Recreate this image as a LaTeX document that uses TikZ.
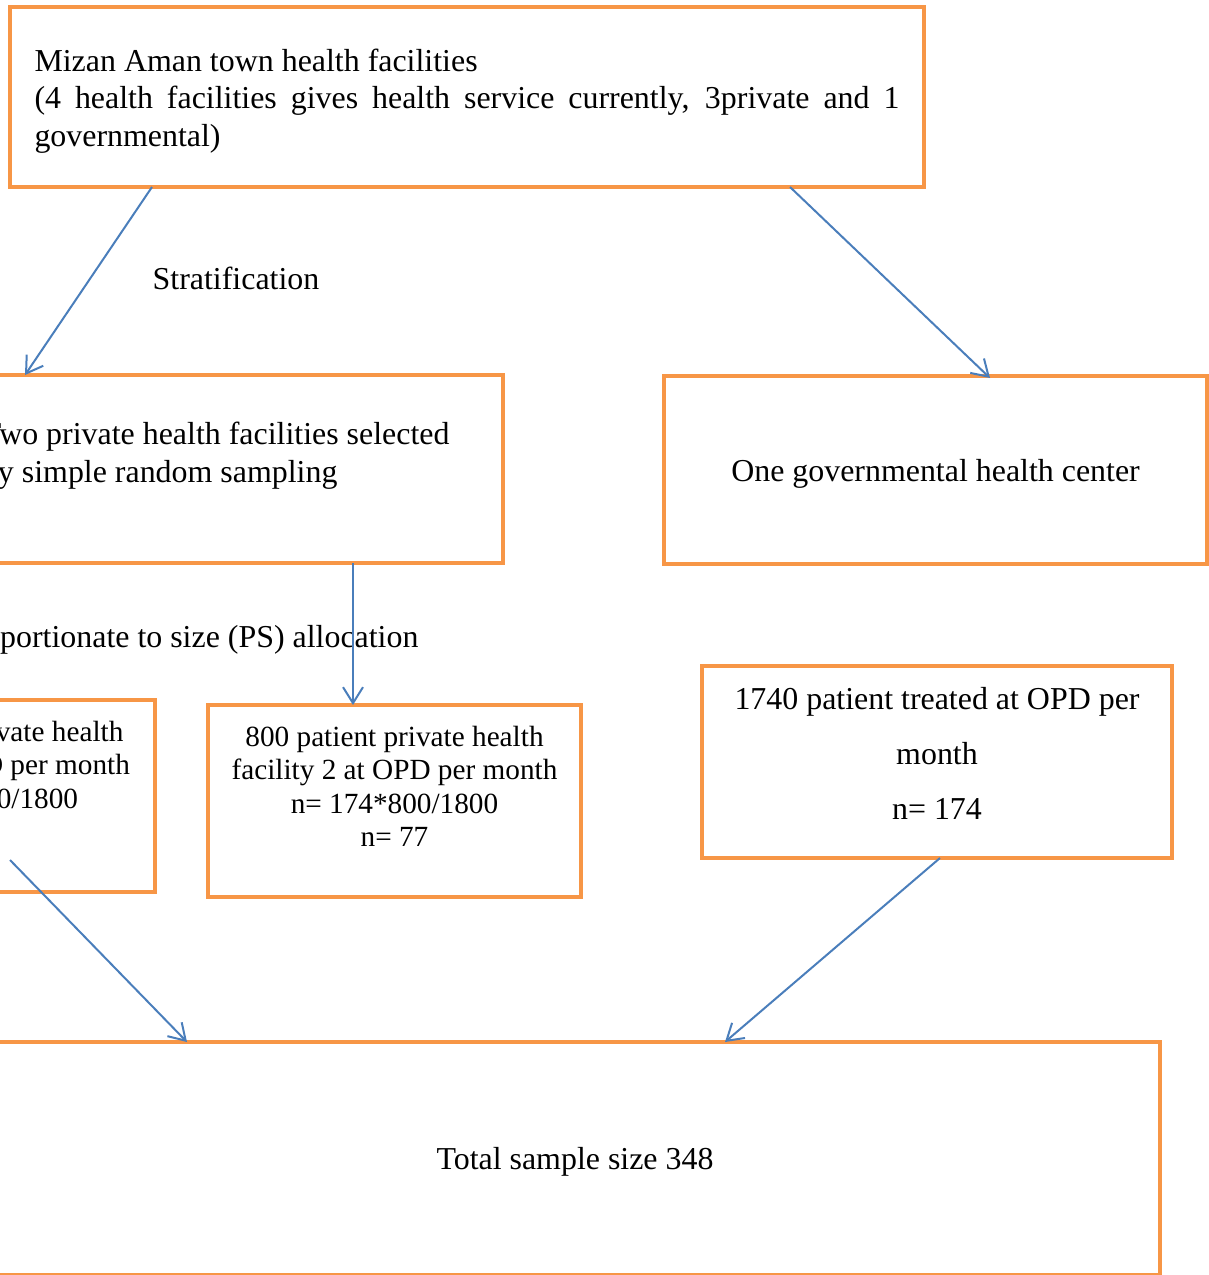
\documentclass[tikz,border=0pt]{standalone}
\usepackage{fontspec}
\setmainfont{Liberation Serif}
\usetikzlibrary{positioning}
\usetikzlibrary{calc}
\usetikzlibrary{arrows.meta}
\definecolor{boxorange}{HTML}{F79646}
\definecolor{arrowblue}{HTML}{4A7EBB}
\newcommand{\pxu}{0.376pt}

\begin{document}
\begin{tikzpicture}[x=0.376pt, y=-0.376pt, ->, >={Straight Barb[length=6pt, width=7.5pt]},
  mybox/.style={rectangle, draw=boxorange, line width=1.5pt, outer sep=0pt, inner sep=0pt, font=\fontsize{12}{14.1}\selectfont},
  smallbox/.style={mybox, align=center, font=\fontsize{11}{12.6}\selectfont, text depth=11pt, minimum width=376*\pxu, minimum height=192*\pxu},
  every edge/.append style={arrowblue, line width=0.75pt}]

  \path[use as bounding box] (0,0) rectangle (1209,1275);
  \clip (0,0) rectangle (1209,1275);

  \node[mybox, text width=865*\pxu, align=flush left, text depth=27.8pt, minimum width=914*\pxu, minimum height=180*\pxu] (top) at (467,97)
    {Mizan Aman town health facilities\\
     \makebox[325.2pt][s]{(4 health facilities gives health service currently, 3private and 1}\\
     governmental)};
  \node[font=\fontsize{12}{14.1}\selectfont, inner sep=0pt] (strat) at (236,278) {Stratification};
  \node[mybox, text width=504*\pxu, align=flush left, minimum width=538*\pxu, minimum height=188*\pxu, text depth=26.7pt] (priv) at (234,469)
    {Two private health facilities selected\\by simple random sampling};
  \node[mybox, text depth=0pt, minimum width=543*\pxu, minimum height=188*\pxu] (gov) at (935.5,470) {One governmental health center};
  \node[font=\fontsize{12}{14.1}\selectfont, inner sep=0pt, anchor=east] (psalloc) at (419,640) {Proportionate to size (PS) allocation};
  \node[smallbox] (pvt1) at (-33,796) {1000 patient private health\\facility 1 at OPD per month\\n= 174*1000/1800\\n= 97};
  \node[smallbox, minimum width=373*\pxu] (pvt2) at (394.5,801) {800 patient private health\\facility 2 at OPD per month\\n= 174*800/1800\\n= 77};
  \node[mybox, align=center, font=\fontsize{12}{20.7}\selectfont, text depth=6.4pt, minimum width=470*\pxu, minimum height=192*\pxu] (opd) at (937,762)
    {1740 patient treated at OPD per\\month\\n= 174};
  \node[mybox, text depth=0pt, minimum width=1170*\pxu, minimum height=233*\pxu] (total) at (575,1158.5) {Total sample size 348};

  \path
    ($(top.south west)+(142,0)$) edge ($(priv.north west)+(60,0)$)
    ($(top.south west)+(780,0)$) edge ($(gov.north west)+(326,2)$)
    ($(priv.south west)+(388,0)$) edge ($(pvt2.north west)+(145,0)$)
    ($(pvt1.south west)+(231,-32)$) edge ($(total.north west)+(197,0)$)
    ($(opd.south west)+(238,0)$) edge ($(total.north west)+(735,0)$)
  ;
\end{tikzpicture}
\end{document}
